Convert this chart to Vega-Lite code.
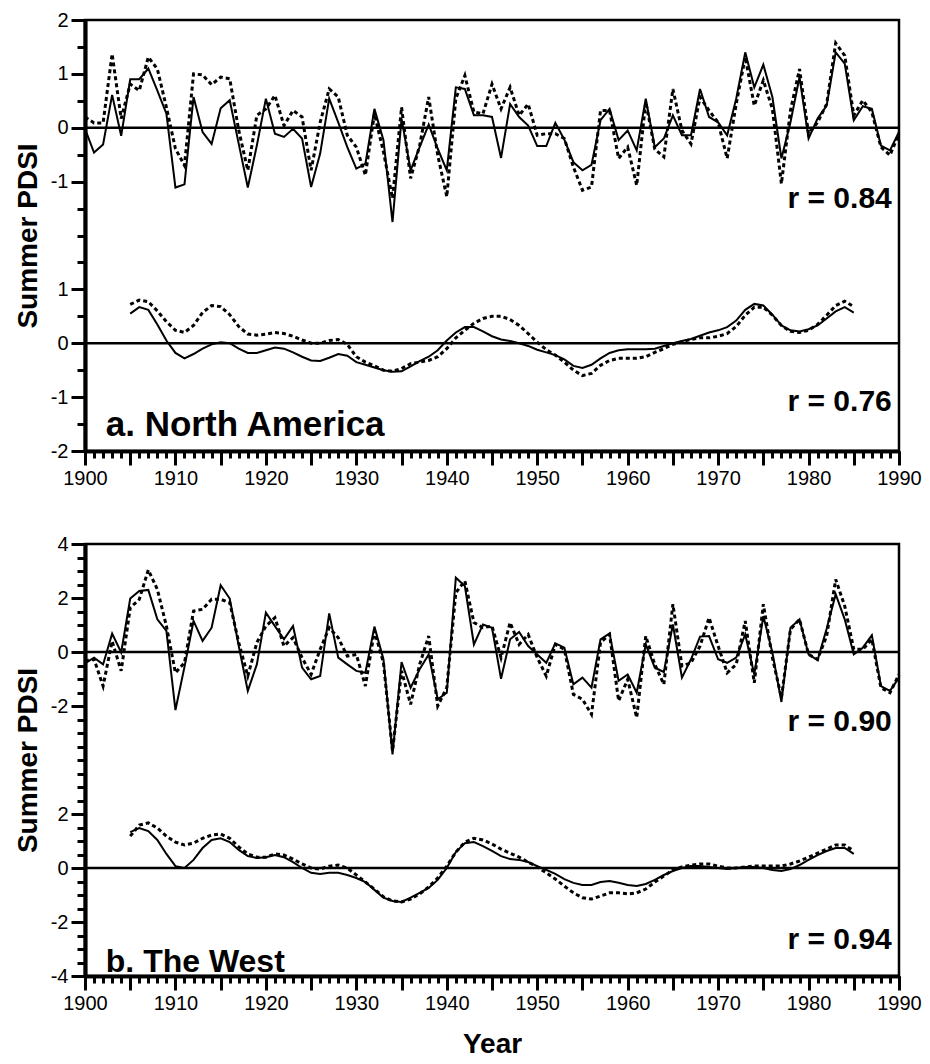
{
"$schema": "https://vega.github.io/schema/vega-lite/v6.json",
"padding": {"left": 12, "top": 8, "right": 5, "bottom": 5},
"spacing": 42,
"config": {
  "view": {"stroke": "black", "strokeWidth": 2.5},
  "axis": {"domainColor": "black", "domainWidth": 3.5, "tickColor": "black", "tickWidth": 3, "labelColor": "black", "labelFont": "Liberation Sans", "labelFontSize": 20, "labelFlush": false, "labelOverlap": false, "titleFont": "Liberation Sans", "titleFontSize": 28, "titleFontWeight": "bold", "titleColor": "black", "grid": false, "labelPadding": 3},
  "text": {"font": "Liberation Sans", "fontWeight": "bold", "color": "black"}
},
"datasets": {
"a_annual": [
{"year":1900,"observed":-0.02,"reconstructed":0.20},{"year":1901,"observed":-0.46,"reconstructed":0.09},{"year":1902,"observed":-0.31,"reconstructed":0.09},{"year":1903,"observed":0.61,"reconstructed":1.37},{"year":1904,"observed":-0.15,"reconstructed":0.17},{"year":1905,"observed":0.90,"reconstructed":0.81},{"year":1906,"observed":0.90,"reconstructed":0.69},{"year":1907,"observed":1.10,"reconstructed":1.31},{"year":1908,"observed":0.69,"reconstructed":1.09},{"year":1909,"observed":0.26,"reconstructed":0.38},
{"year":1910,"observed":-1.11,"reconstructed":-0.39},{"year":1911,"observed":-1.05,"reconstructed":-0.70},{"year":1912,"observed":0.57,"reconstructed":1.00},{"year":1913,"observed":-0.08,"reconstructed":0.98},{"year":1914,"observed":-0.30,"reconstructed":0.80},{"year":1915,"observed":0.36,"reconstructed":0.94},{"year":1916,"observed":0.51,"reconstructed":0.91},{"year":1917,"observed":-0.30,"reconstructed":-0.05},{"year":1918,"observed":-1.11,"reconstructed":-0.79},{"year":1919,"observed":-0.33,"reconstructed":0.23},
{"year":1920,"observed":0.54,"reconstructed":0.35},{"year":1921,"observed":-0.11,"reconstructed":0.60},{"year":1922,"observed":-0.17,"reconstructed":0.04},{"year":1923,"observed":-0.02,"reconstructed":0.32},{"year":1924,"observed":-0.20,"reconstructed":0.20},{"year":1925,"observed":-1.10,"reconstructed":-0.79},{"year":1926,"observed":-0.48,"reconstructed":0.10},{"year":1927,"observed":0.54,"reconstructed":0.72},{"year":1928,"observed":0.10,"reconstructed":0.57},{"year":1929,"observed":-0.36,"reconstructed":-0.14},
{"year":1930,"observed":-0.76,"reconstructed":-0.36},{"year":1931,"observed":-0.67,"reconstructed":-0.88},{"year":1932,"observed":0.35,"reconstructed":0.26},{"year":1933,"observed":-0.23,"reconstructed":-0.45},{"year":1934,"observed":-1.75,"reconstructed":-1.31},{"year":1935,"observed":0.17,"reconstructed":0.38},{"year":1936,"observed":-0.79,"reconstructed":-0.94},{"year":1937,"observed":-0.36,"reconstructed":-0.33},{"year":1938,"observed":0.06,"reconstructed":0.57},{"year":1939,"observed":-0.39,"reconstructed":-0.51},
{"year":1940,"observed":-0.79,"reconstructed":-1.28},{"year":1941,"observed":0.75,"reconstructed":0.54},{"year":1942,"observed":0.72,"reconstructed":0.97},{"year":1943,"observed":0.23,"reconstructed":0.29},{"year":1944,"observed":0.23,"reconstructed":0.26},{"year":1945,"observed":0.20,"reconstructed":0.81},{"year":1946,"observed":-0.56,"reconstructed":0.35},{"year":1947,"observed":0.44,"reconstructed":0.75},{"year":1948,"observed":0.20,"reconstructed":0.23},{"year":1949,"observed":0.04,"reconstructed":0.44},
{"year":1950,"observed":-0.34,"reconstructed":-0.14},{"year":1951,"observed":-0.34,"reconstructed":-0.11},{"year":1952,"observed":0.09,"reconstructed":-0.11},{"year":1953,"observed":-0.22,"reconstructed":-0.20},{"year":1954,"observed":-0.64,"reconstructed":-0.73},{"year":1955,"observed":-0.79,"reconstructed":-1.16},{"year":1956,"observed":-0.69,"reconstructed":-1.10},{"year":1957,"observed":0.14,"reconstructed":0.32},{"year":1958,"observed":0.35,"reconstructed":0.32},{"year":1959,"observed":-0.23,"reconstructed":-0.57},
{"year":1960,"observed":-0.05,"reconstructed":-0.36},{"year":1961,"observed":-0.42,"reconstructed":-1.07},{"year":1962,"observed":0.54,"reconstructed":0.48},{"year":1963,"observed":-0.36,"reconstructed":-0.40},{"year":1964,"observed":-0.20,"reconstructed":-0.54},{"year":1965,"observed":0.23,"reconstructed":0.72},{"year":1966,"observed":-0.14,"reconstructed":-0.05},{"year":1967,"observed":-0.14,"reconstructed":-0.30},{"year":1968,"observed":0.72,"reconstructed":0.57},{"year":1969,"observed":0.20,"reconstructed":0.32},
{"year":1970,"observed":0.10,"reconstructed":0.10},{"year":1971,"observed":-0.14,"reconstructed":-0.57},{"year":1972,"observed":0.54,"reconstructed":0.44},{"year":1973,"observed":1.40,"reconstructed":1.31},{"year":1974,"observed":0.75,"reconstructed":0.41},{"year":1975,"observed":1.17,"reconstructed":0.88},{"year":1976,"observed":0.57,"reconstructed":0.35},{"year":1977,"observed":-0.57,"reconstructed":-1.04},{"year":1978,"observed":0.10,"reconstructed":0.32},{"year":1979,"observed":0.94,"reconstructed":1.09},
{"year":1980,"observed":-0.20,"reconstructed":-0.11},{"year":1981,"observed":0.17,"reconstructed":0.10},{"year":1982,"observed":0.41,"reconstructed":0.44},{"year":1983,"observed":1.40,"reconstructed":1.57},{"year":1984,"observed":1.19,"reconstructed":1.34},{"year":1985,"observed":0.14,"reconstructed":0.23},{"year":1986,"observed":0.40,"reconstructed":0.51},{"year":1987,"observed":0.35,"reconstructed":0.29},{"year":1988,"observed":-0.33,"reconstructed":-0.36},{"year":1989,"observed":-0.42,"reconstructed":-0.51},
{"year":1990,"observed":-0.08,"reconstructed":-0.11}
],
"a_smooth": [
{"year":1905,"observed":0.55,"reconstructed":0.72},{"year":1906,"observed":0.67,"reconstructed":0.80},{"year":1907,"observed":0.62,"reconstructed":0.77},{"year":1908,"observed":0.35,"reconstructed":0.60},{"year":1909,"observed":0.05,"reconstructed":0.40},
{"year":1910,"observed":-0.18,"reconstructed":0.24},{"year":1911,"observed":-0.28,"reconstructed":0.20},{"year":1912,"observed":-0.20,"reconstructed":0.33},{"year":1913,"observed":-0.10,"reconstructed":0.57},{"year":1914,"observed":-0.02,"reconstructed":0.70},{"year":1915,"observed":0.02,"reconstructed":0.68},{"year":1916,"observed":0.00,"reconstructed":0.53},{"year":1917,"observed":-0.10,"reconstructed":0.31},{"year":1918,"observed":-0.18,"reconstructed":0.17},{"year":1919,"observed":-0.18,"reconstructed":0.15},
{"year":1920,"observed":-0.13,"reconstructed":0.17},{"year":1921,"observed":-0.08,"reconstructed":0.20},{"year":1922,"observed":-0.10,"reconstructed":0.18},{"year":1923,"observed":-0.17,"reconstructed":0.13},{"year":1924,"observed":-0.25,"reconstructed":0.06},{"year":1925,"observed":-0.32,"reconstructed":0.00},{"year":1926,"observed":-0.33,"reconstructed":0.00},{"year":1927,"observed":-0.27,"reconstructed":0.05},{"year":1928,"observed":-0.20,"reconstructed":0.07},{"year":1929,"observed":-0.23,"reconstructed":-0.02},
{"year":1930,"observed":-0.35,"reconstructed":-0.25},{"year":1931,"observed":-0.40,"reconstructed":-0.35},{"year":1932,"observed":-0.45,"reconstructed":-0.42},{"year":1933,"observed":-0.50,"reconstructed":-0.50},{"year":1934,"observed":-0.53,"reconstructed":-0.52},{"year":1935,"observed":-0.52,"reconstructed":-0.47},{"year":1936,"observed":-0.43,"reconstructed":-0.38},{"year":1937,"observed":-0.33,"reconstructed":-0.35},{"year":1938,"observed":-0.25,"reconstructed":-0.32},{"year":1939,"observed":-0.13,"reconstructed":-0.25},
{"year":1940,"observed":0.05,"reconstructed":-0.10},{"year":1941,"observed":0.20,"reconstructed":0.10},{"year":1942,"observed":0.30,"reconstructed":0.24},{"year":1943,"observed":0.30,"reconstructed":0.37},{"year":1944,"observed":0.22,"reconstructed":0.46},{"year":1945,"observed":0.13,"reconstructed":0.50},{"year":1946,"observed":0.07,"reconstructed":0.50},{"year":1947,"observed":0.04,"reconstructed":0.44},{"year":1948,"observed":0.00,"reconstructed":0.33},{"year":1949,"observed":-0.05,"reconstructed":0.18},
{"year":1950,"observed":-0.12,"reconstructed":0.02},{"year":1951,"observed":-0.17,"reconstructed":-0.12},{"year":1952,"observed":-0.22,"reconstructed":-0.22},{"year":1953,"observed":-0.30,"reconstructed":-0.35},{"year":1954,"observed":-0.42,"reconstructed":-0.50},{"year":1955,"observed":-0.46,"reconstructed":-0.60},{"year":1956,"observed":-0.40,"reconstructed":-0.56},{"year":1957,"observed":-0.28,"reconstructed":-0.41},{"year":1958,"observed":-0.18,"reconstructed":-0.32},{"year":1959,"observed":-0.13,"reconstructed":-0.28},
{"year":1960,"observed":-0.11,"reconstructed":-0.28},{"year":1961,"observed":-0.11,"reconstructed":-0.28},{"year":1962,"observed":-0.11,"reconstructed":-0.25},{"year":1963,"observed":-0.10,"reconstructed":-0.17},{"year":1964,"observed":-0.05,"reconstructed":-0.10},{"year":1965,"observed":0.00,"reconstructed":-0.02},{"year":1966,"observed":0.04,"reconstructed":0.03},{"year":1967,"observed":0.08,"reconstructed":0.07},{"year":1968,"observed":0.14,"reconstructed":0.10},{"year":1969,"observed":0.20,"reconstructed":0.10},
{"year":1970,"observed":0.24,"reconstructed":0.13},{"year":1971,"observed":0.30,"reconstructed":0.18},{"year":1972,"observed":0.42,"reconstructed":0.31},{"year":1973,"observed":0.62,"reconstructed":0.52},{"year":1974,"observed":0.73,"reconstructed":0.67},{"year":1975,"observed":0.70,"reconstructed":0.67},{"year":1976,"observed":0.53,"reconstructed":0.52},{"year":1977,"observed":0.33,"reconstructed":0.33},{"year":1978,"observed":0.24,"reconstructed":0.22},{"year":1979,"observed":0.22,"reconstructed":0.20},
{"year":1980,"observed":0.26,"reconstructed":0.24},{"year":1981,"observed":0.33,"reconstructed":0.35},{"year":1982,"observed":0.46,"reconstructed":0.52},{"year":1983,"observed":0.59,"reconstructed":0.70},{"year":1984,"observed":0.67,"reconstructed":0.78},{"year":1985,"observed":0.57,"reconstructed":0.68}
],
"b_annual": [
{"year":1900,"observed":-0.42,"reconstructed":-0.33},{"year":1901,"observed":-0.21,"reconstructed":-0.27},{"year":1902,"observed":-0.46,"reconstructed":-1.26},{"year":1903,"observed":0.68,"reconstructed":0.40},{"year":1904,"observed":-0.02,"reconstructed":-0.70},{"year":1905,"observed":1.98,"reconstructed":1.64},{"year":1906,"observed":2.26,"reconstructed":1.95},{"year":1907,"observed":2.30,"reconstructed":3.04},{"year":1908,"observed":1.21,"reconstructed":2.32},{"year":1909,"observed":0.78,"reconstructed":0.96},
{"year":1910,"observed":-2.15,"reconstructed":-0.77},{"year":1911,"observed":-0.55,"reconstructed":-0.40},{"year":1912,"observed":1.15,"reconstructed":1.52},{"year":1913,"observed":0.41,"reconstructed":1.58},{"year":1914,"observed":0.90,"reconstructed":1.95},{"year":1915,"observed":2.47,"reconstructed":1.95},{"year":1916,"observed":1.98,"reconstructed":1.83},{"year":1917,"observed":0.22,"reconstructed":0.35},{"year":1918,"observed":-1.44,"reconstructed":-0.89},{"year":1919,"observed":-0.46,"reconstructed":0.35},
{"year":1920,"observed":1.46,"reconstructed":0.96},{"year":1921,"observed":0.96,"reconstructed":1.27},{"year":1922,"observed":0.47,"reconstructed":0.22},{"year":1923,"observed":0.96,"reconstructed":0.53},{"year":1924,"observed":-0.58,"reconstructed":-0.21},{"year":1925,"observed":-1.01,"reconstructed":-0.83},{"year":1926,"observed":-0.89,"reconstructed":0.10},{"year":1927,"observed":1.43,"reconstructed":0.90},{"year":1928,"observed":-0.21,"reconstructed":0.53},{"year":1929,"observed":-0.46,"reconstructed":-0.15},
{"year":1930,"observed":-0.70,"reconstructed":-0.09},{"year":1931,"observed":-0.77,"reconstructed":-1.26},{"year":1932,"observed":0.94,"reconstructed":0.78},{"year":1933,"observed":-0.27,"reconstructed":-0.40},{"year":1934,"observed":-3.79,"reconstructed":-3.67},{"year":1935,"observed":-0.37,"reconstructed":-0.70},{"year":1936,"observed":-1.32,"reconstructed":-1.94},{"year":1937,"observed":-0.64,"reconstructed":-0.46},{"year":1938,"observed":-0.09,"reconstructed":0.59},{"year":1939,"observed":-1.75,"reconstructed":-2.00},
{"year":1940,"observed":-1.51,"reconstructed":-1.32},{"year":1941,"observed":2.75,"reconstructed":2.20},{"year":1942,"observed":2.44,"reconstructed":2.63},{"year":1943,"observed":0.28,"reconstructed":1.09},{"year":1944,"observed":1.02,"reconstructed":0.90},{"year":1945,"observed":0.90,"reconstructed":0.96},{"year":1946,"observed":-0.99,"reconstructed":-0.21},{"year":1947,"observed":0.47,"reconstructed":1.09},{"year":1948,"observed":0.74,"reconstructed":0.28},{"year":1949,"observed":0.22,"reconstructed":0.65},
{"year":1950,"observed":-0.09,"reconstructed":-0.21},{"year":1951,"observed":-0.40,"reconstructed":-0.89},{"year":1952,"observed":0.32,"reconstructed":0.28},{"year":1953,"observed":0.16,"reconstructed":0.10},{"year":1954,"observed":-1.20,"reconstructed":-1.57},{"year":1955,"observed":-0.95,"reconstructed":-1.75},{"year":1956,"observed":-1.32,"reconstructed":-2.31},{"year":1957,"observed":0.47,"reconstructed":0.35},{"year":1958,"observed":0.69,"reconstructed":0.65},{"year":1959,"observed":-1.07,"reconstructed":-1.81},
{"year":1960,"observed":-0.83,"reconstructed":-1.01},{"year":1961,"observed":-1.51,"reconstructed":-2.43},{"year":1962,"observed":0.28,"reconstructed":0.59},{"year":1963,"observed":-0.58,"reconstructed":-0.46},{"year":1964,"observed":-0.74,"reconstructed":-1.20},{"year":1965,"observed":1.02,"reconstructed":1.77},{"year":1966,"observed":-0.95,"reconstructed":-0.52},{"year":1967,"observed":-0.27,"reconstructed":-0.40},{"year":1968,"observed":0.57,"reconstructed":0.22},{"year":1969,"observed":0.59,"reconstructed":1.27},
{"year":1970,"observed":-0.27,"reconstructed":0.22},{"year":1971,"observed":-0.40,"reconstructed":-0.77},{"year":1972,"observed":-0.21,"reconstructed":-0.46},{"year":1973,"observed":0.65,"reconstructed":1.15},{"year":1974,"observed":-0.83,"reconstructed":-1.14},{"year":1975,"observed":1.33,"reconstructed":1.77},{"year":1976,"observed":-0.02,"reconstructed":-0.21},{"year":1977,"observed":-1.85,"reconstructed":-1.69},{"year":1978,"observed":0.90,"reconstructed":0.84},{"year":1979,"observed":1.21,"reconstructed":1.21},
{"year":1980,"observed":-0.09,"reconstructed":-0.09},{"year":1981,"observed":-0.30,"reconstructed":-0.27},{"year":1982,"observed":0.86,"reconstructed":0.59},{"year":1983,"observed":2.14,"reconstructed":2.69},{"year":1984,"observed":1.21,"reconstructed":1.70},{"year":1985,"observed":-0.09,"reconstructed":0.10},{"year":1986,"observed":0.16,"reconstructed":0.10},{"year":1987,"observed":0.62,"reconstructed":0.47},{"year":1988,"observed":-1.26,"reconstructed":-1.32},{"year":1989,"observed":-1.44,"reconstructed":-1.51},
{"year":1990,"observed":-0.95,"reconstructed":-0.83}
],
"b_smooth": [
{"year":1905,"observed":1.33,"reconstructed":1.18},{"year":1906,"observed":1.48,"reconstructed":1.59},{"year":1907,"observed":1.37,"reconstructed":1.67},{"year":1908,"observed":1.04,"reconstructed":1.48},{"year":1909,"observed":0.52,"reconstructed":1.18},
{"year":1910,"observed":0.07,"reconstructed":0.96},{"year":1911,"observed":0.00,"reconstructed":0.85},{"year":1912,"observed":0.30,"reconstructed":0.92},{"year":1913,"observed":0.74,"reconstructed":1.10},{"year":1914,"observed":1.04,"reconstructed":1.22},{"year":1915,"observed":1.10,"reconstructed":1.26},{"year":1916,"observed":0.96,"reconstructed":1.10},{"year":1917,"observed":0.67,"reconstructed":0.78},{"year":1918,"observed":0.44,"reconstructed":0.52},{"year":1919,"observed":0.37,"reconstructed":0.40},
{"year":1920,"observed":0.40,"reconstructed":0.40},{"year":1921,"observed":0.48,"reconstructed":0.52},{"year":1922,"observed":0.40,"reconstructed":0.48},{"year":1923,"observed":0.22,"reconstructed":0.33},{"year":1924,"observed":0.00,"reconstructed":0.15},{"year":1925,"observed":-0.18,"reconstructed":0.00},{"year":1926,"observed":-0.22,"reconstructed":-0.04},{"year":1927,"observed":-0.18,"reconstructed":0.07},{"year":1928,"observed":-0.18,"reconstructed":0.11},{"year":1929,"observed":-0.26,"reconstructed":0.00},
{"year":1930,"observed":-0.37,"reconstructed":-0.26},{"year":1931,"observed":-0.52,"reconstructed":-0.52},{"year":1932,"observed":-0.81,"reconstructed":-0.78},{"year":1933,"observed":-1.10,"reconstructed":-1.07},{"year":1934,"observed":-1.22,"reconstructed":-1.22},{"year":1935,"observed":-1.26,"reconstructed":-1.26},{"year":1936,"observed":-1.10,"reconstructed":-1.15},{"year":1937,"observed":-0.92,"reconstructed":-0.96},{"year":1938,"observed":-0.74,"reconstructed":-0.70},{"year":1939,"observed":-0.44,"reconstructed":-0.37},
{"year":1940,"observed":0.00,"reconstructed":0.07},{"year":1941,"observed":0.59,"reconstructed":0.59},{"year":1942,"observed":0.92,"reconstructed":0.96},{"year":1943,"observed":0.96,"reconstructed":1.10},{"year":1944,"observed":0.81,"reconstructed":1.04},{"year":1945,"observed":0.63,"reconstructed":0.89},{"year":1946,"observed":0.44,"reconstructed":0.70},{"year":1947,"observed":0.33,"reconstructed":0.55},{"year":1948,"observed":0.30,"reconstructed":0.40},{"year":1949,"observed":0.22,"reconstructed":0.22},
{"year":1950,"observed":0.07,"reconstructed":0.04},{"year":1951,"observed":-0.07,"reconstructed":-0.18},{"year":1952,"observed":-0.22,"reconstructed":-0.41},{"year":1953,"observed":-0.41,"reconstructed":-0.67},{"year":1954,"observed":-0.55,"reconstructed":-0.92},{"year":1955,"observed":-0.63,"reconstructed":-1.10},{"year":1956,"observed":-0.63,"reconstructed":-1.15},{"year":1957,"observed":-0.52,"reconstructed":-1.04},{"year":1958,"observed":-0.48,"reconstructed":-0.92},{"year":1959,"observed":-0.55,"reconstructed":-0.92},
{"year":1960,"observed":-0.63,"reconstructed":-0.96},{"year":1961,"observed":-0.67,"reconstructed":-0.92},{"year":1962,"observed":-0.59,"reconstructed":-0.78},{"year":1963,"observed":-0.44,"reconstructed":-0.52},{"year":1964,"observed":-0.26,"reconstructed":-0.30},{"year":1965,"observed":-0.11,"reconstructed":-0.07},{"year":1966,"observed":0.00,"reconstructed":0.04},{"year":1967,"observed":0.07,"reconstructed":0.11},{"year":1968,"observed":0.07,"reconstructed":0.15},{"year":1969,"observed":0.04,"reconstructed":0.15},
{"year":1970,"observed":0.00,"reconstructed":0.07},{"year":1971,"observed":-0.04,"reconstructed":0.00},{"year":1972,"observed":0.00,"reconstructed":0.00},{"year":1973,"observed":0.04,"reconstructed":0.04},{"year":1974,"observed":0.04,"reconstructed":0.07},{"year":1975,"observed":0.00,"reconstructed":0.07},{"year":1976,"observed":-0.07,"reconstructed":0.07},{"year":1977,"observed":-0.11,"reconstructed":0.07},{"year":1978,"observed":-0.04,"reconstructed":0.15},{"year":1979,"observed":0.11,"reconstructed":0.26},
{"year":1980,"observed":0.30,"reconstructed":0.40},{"year":1981,"observed":0.48,"reconstructed":0.55},{"year":1982,"observed":0.63,"reconstructed":0.70},{"year":1983,"observed":0.74,"reconstructed":0.85},{"year":1984,"observed":0.74,"reconstructed":0.85},{"year":1985,"observed":0.52,"reconstructed":0.63}
]
},
"vconcat": [
{
 "width": 814, "height": 431,
 "layer": [
  {
   "layer": [
    {"data": {"name": "a_annual"}, "mark": {"type": "line", "color": "black", "strokeWidth": 2},
     "encoding": {
      "x": {"field": "year", "type": "quantitative", "scale": {"domain": [1900, 1990], "nice": false, "zero": false},
            "axis": {"orient": "bottom", "values": [1900,1905,1910,1915,1920,1925,1930,1935,1940,1945,1950,1955,1960,1965,1970,1975,1980,1985,1990], "tickSize": 14, "labelExpr": "datum.value % 10 === 0 ? '' + datum.value : ''", "title": null}},
      "y": {"field": "observed", "type": "quantitative", "scale": {"domain": [-6, 2], "nice": false, "zero": false},
            "axis": {"orient": "left", "values": [-1, 0, 1, 2], "tickSize": 14, "labelExpr": "datum.value < 0 ? '-' + abs(datum.value) : '' + datum.value", "title": "Summer PDSI", "titlePadding": 8}}
     }},
    {"data": {"name": "a_annual"}, "mark": {"type": "line", "color": "black", "strokeWidth": 3, "strokeDash": [4, 3]},
     "encoding": {
      "x": {"field": "year", "type": "quantitative",
            "axis": {"orient": "bottom", "values": [1900,1901,1902,1903,1904,1905,1906,1907,1908,1909,1910,1911,1912,1913,1914,1915,1916,1917,1918,1919,1920,1921,1922,1923,1924,1925,1926,1927,1928,1929,1930,1931,1932,1933,1934,1935,1936,1937,1938,1939,1940,1941,1942,1943,1944,1945,1946,1947,1948,1949,1950,1951,1952,1953,1954,1955,1956,1957,1958,1959,1960,1961,1962,1963,1964,1965,1966,1967,1968,1969,1970,1971,1972,1973,1974,1975,1976,1977,1978,1979,1980,1981,1982,1983,1984,1985,1986,1987,1988,1989,1990], "tickSize": 7, "labels": false, "title": null}},
      "y": {"field": "reconstructed", "type": "quantitative",
            "axis": {"orient": "left", "values": [-6,-5.5,-5,-4.5,-4,-3.5,-3,-2.5,-2,-1.5,-1,-0.5,0,0.5,1,1.5,2], "tickSize": 8, "labels": false, "title": null}}
     }},
    {"data": {"values": [{}]}, "mark": {"type": "rule", "color": "black", "strokeWidth": 2.5},
     "encoding": {"y": {"datum": 0, "type": "quantitative", "axis": null}}},
    {"data": {"values": [{}]}, "mark": {"type": "text", "text": "r = 0.84", "align": "right", "baseline": "middle", "fontSize": 30},
     "encoding": {"x": {"datum": 1989.2, "type": "quantitative", "axis": null}, "y": {"datum": -1.33, "type": "quantitative", "axis": null}}}
   ],
   "resolve": {"axis": {"x": "independent", "y": "independent"}}
  },
  {
   "layer": [
    {"data": {"name": "a_smooth"}, "mark": {"type": "line", "color": "black", "strokeWidth": 2},
     "encoding": {
      "x": {"field": "year", "type": "quantitative", "axis": null},
      "y": {"field": "observed", "type": "quantitative", "scale": {"domain": [-2, 6], "nice": false, "zero": false},
            "axis": {"orient": "left", "values": [-2, -1, 0, 1], "tickSize": 14, "labelExpr": "datum.value < 0 ? '-' + abs(datum.value) : '' + datum.value", "title": null}}
     }},
    {"data": {"name": "a_smooth"}, "mark": {"type": "line", "color": "black", "strokeWidth": 3, "strokeDash": [4, 3]},
     "encoding": {
      "x": {"field": "year", "type": "quantitative", "axis": null},
      "y": {"field": "reconstructed", "type": "quantitative", "axis": null}
     }},
    {"data": {"values": [{}]}, "mark": {"type": "rule", "color": "black", "strokeWidth": 2.5},
     "encoding": {"y": {"datum": 0, "type": "quantitative", "axis": null}}},
    {"data": {"values": [{}]}, "mark": {"type": "text", "text": "r = 0.76", "align": "right", "baseline": "middle", "fontSize": 30},
     "encoding": {"x": {"datum": 1989.2, "type": "quantitative", "axis": null}, "y": {"datum": -1.09, "type": "quantitative", "axis": null}}},
    {"data": {"values": [{}]}, "mark": {"type": "text", "text": "a. North America", "align": "left", "baseline": "middle", "fontSize": 35},
     "encoding": {"x": {"datum": 1902.3, "type": "quantitative", "axis": null}, "y": {"datum": -1.52, "type": "quantitative", "axis": null}}}
   ],
   "resolve": {"axis": {"x": "independent", "y": "independent"}}
  }
 ],
 "resolve": {"scale": {"y": "independent"}, "axis": {"x": "independent", "y": "independent"}}
},
{
 "width": 814, "height": 432,
 "layer": [
  {
   "layer": [
    {"data": {"name": "b_annual"}, "mark": {"type": "line", "color": "black", "strokeWidth": 2},
     "encoding": {
      "x": {"field": "year", "type": "quantitative", "scale": {"domain": [1900, 1990], "nice": false, "zero": false},
            "axis": {"orient": "bottom", "values": [1900,1905,1910,1915,1920,1925,1930,1935,1940,1945,1950,1955,1960,1965,1970,1975,1980,1985,1990], "tickSize": 14, "labelExpr": "datum.value % 10 === 0 ? '' + datum.value : ''", "title": "Year", "titlePadding": 17}},
      "y": {"field": "observed", "type": "quantitative", "scale": {"domain": [-12, 4], "nice": false, "zero": false},
            "axis": {"orient": "left", "values": [-2, 0, 2, 4], "tickSize": 14, "labelExpr": "datum.value < 0 ? '-' + abs(datum.value) : '' + datum.value", "title": "Summer PDSI", "titlePadding": 8}}
     }},
    {"data": {"name": "b_annual"}, "mark": {"type": "line", "color": "black", "strokeWidth": 3, "strokeDash": [4, 3]},
     "encoding": {
      "x": {"field": "year", "type": "quantitative",
            "axis": {"orient": "bottom", "values": [1900,1901,1902,1903,1904,1905,1906,1907,1908,1909,1910,1911,1912,1913,1914,1915,1916,1917,1918,1919,1920,1921,1922,1923,1924,1925,1926,1927,1928,1929,1930,1931,1932,1933,1934,1935,1936,1937,1938,1939,1940,1941,1942,1943,1944,1945,1946,1947,1948,1949,1950,1951,1952,1953,1954,1955,1956,1957,1958,1959,1960,1961,1962,1963,1964,1965,1966,1967,1968,1969,1970,1971,1972,1973,1974,1975,1976,1977,1978,1979,1980,1981,1982,1983,1984,1985,1986,1987,1988,1989,1990], "tickSize": 7, "labels": false, "title": null}},
      "y": {"field": "reconstructed", "type": "quantitative",
            "axis": {"orient": "left", "values": [-12,-11.5,-11,-10.5,-10,-9.5,-9,-8.5,-8,-7.5,-7,-6.5,-6,-5.5,-5,-4.5,-4,-3.5,-3,-2.5,-2,-1.5,-1,-0.5,0,0.5,1,1.5,2,2.5,3,3.5,4], "tickSize": 8, "labels": false, "title": null}}
     }},
    {"data": {"values": [{}]}, "mark": {"type": "rule", "color": "black", "strokeWidth": 2.5},
     "encoding": {"y": {"datum": 0, "type": "quantitative", "axis": null}}},
    {"data": {"values": [{}]}, "mark": {"type": "text", "text": "r = 0.90", "align": "right", "baseline": "middle", "fontSize": 30},
     "encoding": {"x": {"datum": 1989.2, "type": "quantitative", "axis": null}, "y": {"datum": -2.6, "type": "quantitative", "axis": null}}}
   ],
   "resolve": {"axis": {"x": "independent", "y": "independent"}}
  },
  {
   "layer": [
    {"data": {"name": "b_smooth"}, "mark": {"type": "line", "color": "black", "strokeWidth": 2},
     "encoding": {
      "x": {"field": "year", "type": "quantitative", "axis": null},
      "y": {"field": "observed", "type": "quantitative", "scale": {"domain": [-4, 12], "nice": false, "zero": false},
            "axis": {"orient": "left", "values": [-4, -2, 0, 2], "tickSize": 14, "labelExpr": "datum.value < 0 ? '-' + abs(datum.value) : '' + datum.value", "title": null}}
     }},
    {"data": {"name": "b_smooth"}, "mark": {"type": "line", "color": "black", "strokeWidth": 3, "strokeDash": [4, 3]},
     "encoding": {
      "x": {"field": "year", "type": "quantitative", "axis": null},
      "y": {"field": "reconstructed", "type": "quantitative", "axis": null}
     }},
    {"data": {"values": [{}]}, "mark": {"type": "rule", "color": "black", "strokeWidth": 2.5},
     "encoding": {"y": {"datum": 0, "type": "quantitative", "axis": null}}},
    {"data": {"values": [{}]}, "mark": {"type": "text", "text": "r = 0.94", "align": "right", "baseline": "middle", "fontSize": 30},
     "encoding": {"x": {"datum": 1989.2, "type": "quantitative", "axis": null}, "y": {"datum": -2.67, "type": "quantitative", "axis": null}}},
    {"data": {"values": [{}]}, "mark": {"type": "text", "text": "b. The West", "align": "left", "baseline": "middle", "fontSize": 32},
     "encoding": {"x": {"datum": 1902.3, "type": "quantitative", "axis": null}, "y": {"datum": -3.48, "type": "quantitative", "axis": null}}}
   ],
   "resolve": {"axis": {"x": "independent", "y": "independent"}}
  }
 ],
 "resolve": {"scale": {"y": "independent"}, "axis": {"x": "independent", "y": "independent"}}
}
]
}
